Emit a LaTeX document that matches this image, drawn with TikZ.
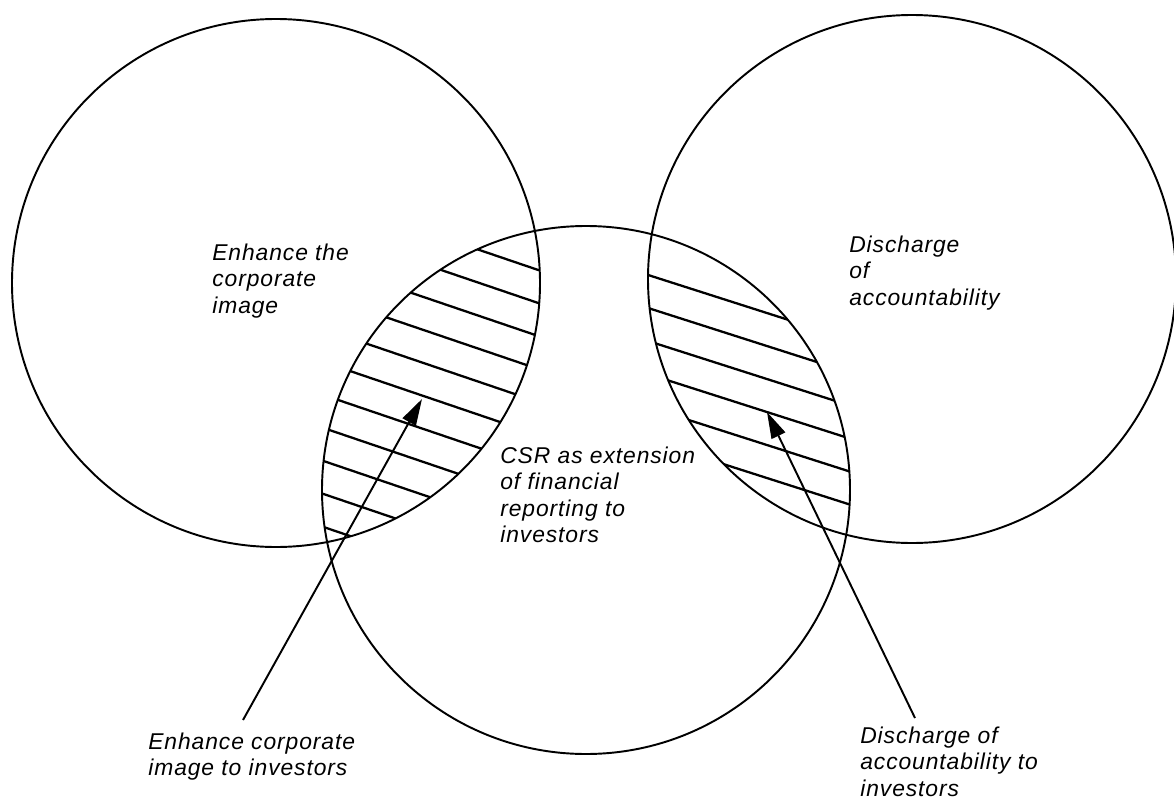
\documentclass[tikz,border=0pt]{standalone}
\usepackage{fontspec}
\setmainfont{Liberation Sans}
\newfontfamily\lblfont{Liberation Sans}[LetterSpace=4.0]
\usetikzlibrary{arrows.meta}
\begin{document}
\begin{tikzpicture}[x=0.02cm,y=-0.02cm,
  ring/.style={line width=1.1pt},
  hatch/.style={line width=1.3pt},
  pointer/.style={line width=1.1pt,-{Triangle[length=15pt,width=8.5pt]}},
  lbl/.style={font=\lblfont\fontsize{13}{15}\selectfont\itshape, align=left, inner sep=0pt, anchor=north west}]
\useasboundingbox (0,0) rectangle (1174,801);

% circles
\coordinate (cL) at (276,283);
\coordinate (cR) at (912,279);
\coordinate (cB) at (586,490);
\draw[ring] (cL) circle[radius=264];
\draw[ring] (cR) circle[radius=264];
\draw[ring] (cB) circle[radius=264];

% left lens hatching
\begin{scope}
  \clip (cL) circle[radius=264];
  \clip (cB) circle[radius=264];
  \foreach \k in {0,...,10} {
    \pgfmathsetmacro{\c}{87+33*\k}
    \draw[hatch] (250,{0.34*250+\c}) -- (650,{0.34*650+\c});
  }
\end{scope}

% right lens hatching
\begin{scope}
  \clip (cR) circle[radius=264];
  \clip (cB) circle[radius=264];
  \foreach \k in {0,...,5} {
    \pgfmathsetmacro{\c}{67.6+33*\k}
    \draw[hatch] (600,{0.32*600+\c}) -- (900,{0.32*900+\c});
  }
\end{scope}

% labels
\node[lbl] (tL) at (212,243.5) {Enhance the\\corporate\\image};
\node[lbl] (tR) at (849,235.5) {Discharge\\of\\accountability};
\node[lbl] (tB) at (500,446.5) {CSR as extension\\of financial\\reporting to\\investors};
\node[lbl] (tEI) at (148,732.5) {Enhance corporate\\image to investors};
\node[lbl] (tDA) at (860,726.5) {Discharge of\\accountability to\\investors};

% arrows
\coordinate (a1s) at (243,720);
\coordinate (a1t) at (422,399);
\coordinate (a2s) at (915,718);
\coordinate (a2t) at (767,412);
\draw[pointer] (a1s) -- (a1t);
\draw[pointer] (a2s) -- (a2t);
\end{tikzpicture}
\end{document}
